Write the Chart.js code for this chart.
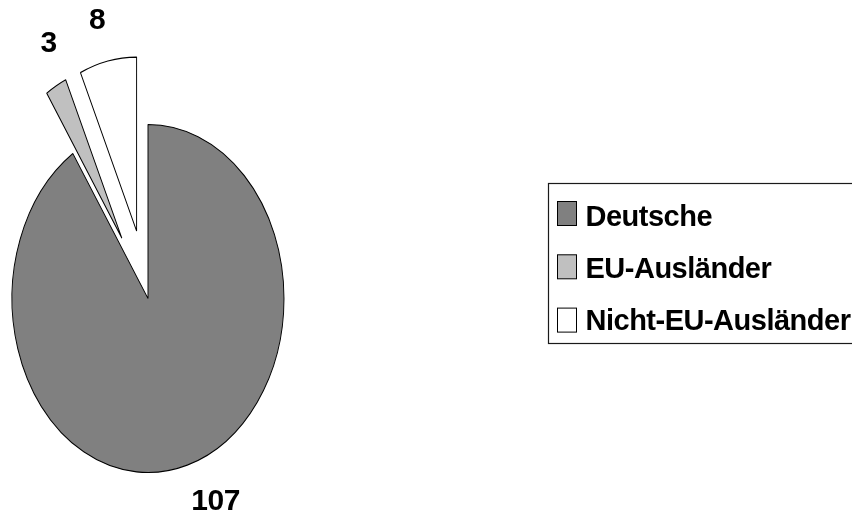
<!DOCTYPE html>
<html>
<head>
<meta charset="utf-8">
<script src="https://cdn.jsdelivr.net/npm/chart.js@4/dist/chart.umd.min.js"></script>
<style>
  html, body { margin: 0; padding: 0; background: #ffffff; }
  #wrap { position: relative; width: 852px; height: 515px; }
  canvas { display: block; }
</style>
</head>
<body>
<div id="wrap"><canvas id="chart" width="852" height="515"></canvas></div>
<script>
// Bevölkerung nach Staatsangehörigkeit
const categories = ['Deutsche', 'EU-Ausländer', 'Nicht-EU-Ausländer'];
const values = [107, 3, 8];
const sliceColors = ['#808080', '#c0c0c0', '#ffffff'];

// Pie geometry and styling
const PIE_RADIUS = 174;            // vertical radius in px
const X_SQUASH = 136 / 174;        // horizontal/vertical ratio of the oval pie
const EXPLODE = [0, 69, 69];       // how far each slice is pulled out (px)
const LABEL_DIST = 1.25;           // label distance in pie radii
const LABEL_NUDGE = [[18.5, -6], [9, -5.5], [-3.5, 1.5]]; // fine placement of value labels (px)
const LABEL_FONT = 'bold 30px "Liberation Sans", Arial, sans-serif';
const LEGEND_FONT = 'bold 29px "Liberation Sans", Arial, sans-serif';

const ovalPie = {
  id: 'ovalPie',
  // draw the arcs ourselves: squashed into an oval and with pulled-out slices
  beforeDatasetDraw(chart, args) {
    const ctx = chart.ctx;
    const meta = args.meta;
    meta.data.forEach((arc, i) => {
      const mid = (arc.startAngle + arc.endAngle) / 2;
      const d = EXPLODE[i] || 0;
      ctx.save();
      ctx.translate(arc.x, 0);
      ctx.scale(X_SQUASH, 1);
      ctx.translate(-arc.x, 0);
      ctx.translate(Math.cos(mid) * d, Math.sin(mid) * d);
      arc.draw(ctx, chart.chartArea);
      ctx.restore();
    });
    return false;
  },
  afterDatasetsDraw(chart) {
    // value labels outside each slice
    const ctx = chart.ctx;
    const meta = chart.getDatasetMeta(0);
    const ds = chart.data.datasets[0];
    ctx.save();
    ctx.font = LABEL_FONT;
    ctx.letterSpacing = '-0.5px';
    ctx.fillStyle = '#000000';
    ctx.textAlign = 'center';
    ctx.textBaseline = 'middle';
    meta.data.forEach((arc, i) => {
      const mid = (arc.startAngle + arc.endAngle) / 2;
      const r = (EXPLODE[i] || 0) + arc.outerRadius * LABEL_DIST;
      const x = arc.x + Math.cos(mid) * r * X_SQUASH + LABEL_NUDGE[i][0];
      const y = arc.y + Math.sin(mid) * r + LABEL_NUDGE[i][1];
      ctx.fillText(String(ds.data[i]), x, y + 1);
    });
    ctx.restore();
  },
  afterDraw(chart) {
    // boxed legend on the right
    const ctx = chart.ctx;
    const ds = chart.data.datasets[0];
    const box = { left: 548.5, top: 183.5, right: 870, bottom: 343.5 };
    ctx.save();
    ctx.strokeStyle = '#1a1a1a';
    ctx.lineWidth = 1.2;
    ctx.strokeRect(box.left, box.top, box.right - box.left, box.bottom - box.top);
    ctx.font = LEGEND_FONT;
    ctx.letterSpacing = '-0.5px';
    ctx.textAlign = 'left';
    ctx.textBaseline = 'alphabetic';
    chart.data.labels.forEach((label, i) => {
      const swTop = 201.5 + i * 53.3;
      ctx.fillStyle = ds.backgroundColor[i];
      ctx.fillRect(557.5, swTop, 19, 24);
      ctx.strokeStyle = '#000000';
      ctx.lineWidth = 1;
      ctx.strokeRect(557.5, swTop, 19, 24);
      ctx.fillStyle = '#000000';
      ctx.fillText(label, 585.5, 225.7 + i * 52);
    });
    ctx.restore();
  }
};

new Chart(document.getElementById('chart'), {
  type: 'pie',
  data: {
    labels: categories,
    datasets: [{
      data: values,
      backgroundColor: sliceColors,
      borderColor: '#000000',
      borderWidth: 1.2,
      radius: PIE_RADIUS,
      clip: false
    }]
  },
  options: {
    responsive: false,
    animation: false,
    events: [],
    layout: { padding: { left: 0, right: 556, top: 82, bottom: 0 } },
    plugins: {
      legend: { display: false },
      tooltip: { enabled: false }
    }
  },
  plugins: [ovalPie]
});
</script>
</body>
</html>
